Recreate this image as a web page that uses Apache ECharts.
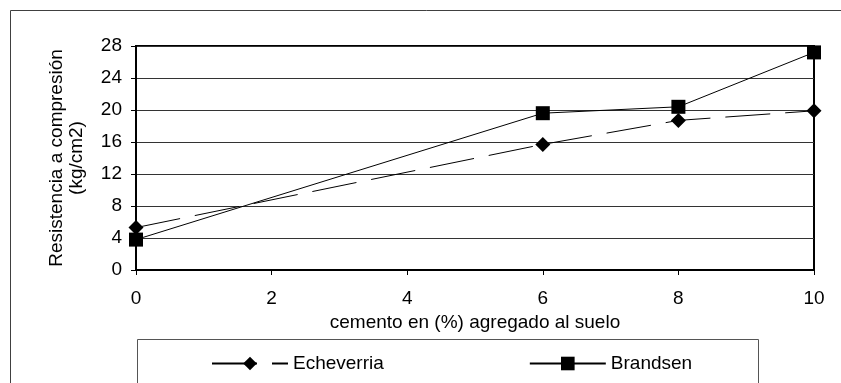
<!DOCTYPE html>
<html>
<head>
<meta charset="utf-8">
<script src="https://cdn.jsdelivr.net/npm/echarts@6/dist/echarts.min.js"></script>
<style>
  html, body { margin: 0; padding: 0; background: #fff; }
  #chart { width: 841px; height: 383px; }
</style>
</head>
<body>
<div id="chart"></div>
<script>
// Cement added to the soil (%) and compressive strength (kg/cm2) per soil
const cementoPct = [0, 6, 8, 10];
const echeverria = [5.3, 15.7, 18.7, 19.9];
const brandsen = [3.8, 19.6, 20.4, 27.2];

const serieNames = ['Echeverria', 'Brandsen'];
const xTitle = 'cemento en (%) agregado al suelo';
const yTitle = 'Resistencia a compresión\n(kg/cm2)';

const FONT = '"Liberation Sans", Arial, sans-serif';

const pairs = (xs, ys) => xs.map((x, i) => [x, ys[i]]);

const chart = echarts.init(document.getElementById('chart'), null, { renderer: 'canvas' });

chart.setOption({
  animation: false,
  backgroundColor: '#fff',
  textStyle: { fontFamily: FONT, color: '#000' },
  graphic: [
    {
      type: 'rect',
      silent: true,
      shape: { x: 10.5, y: 10.5, width: 1000, height: 1000 },
      style: { fill: 'none', stroke: '#404040', lineWidth: 1 },
      z: -10
    },
    {
      type: 'rect',
      silent: true,
      shape: { x: 137.5, y: 339.5, width: 621, height: 200 },
      style: { fill: 'none', stroke: '#555', lineWidth: 1 },
      z: -10
    }
  ],
  grid: {
    left: 136, top: 46, width: 678, height: 224,
    show: true, borderColor: '#000', borderWidth: 2, backgroundColor: 'transparent'
  },
  legend: {
    left: 211, top: 354, padding: 0,
    itemWidth: 76, itemHeight: 17, itemGap: 145,
    textStyle: { fontFamily: FONT, fontSize: 19, color: '#000' },
    data: serieNames
  },
  xAxis: {
    type: 'value', min: 0, max: 10, interval: 2,
    name: xTitle, nameLocation: 'middle', nameGap: 41,
    nameTextStyle: { fontFamily: FONT, fontSize: 19, color: '#000', lineHeight: 19 },
    axisLine: { show: true, lineStyle: { color: '#000', width: 2 } },
    axisTick: { show: true, length: 5, lineStyle: { color: '#000', width: 1 } },
    axisLabel: { fontFamily: FONT, fontSize: 19, color: '#000', margin: 19, lineHeight: 19 },
    splitLine: { show: false }
  },
  yAxis: {
    type: 'value', min: 0, max: 28, interval: 4,
    name: yTitle, nameLocation: 'middle', nameGap: 49, nameRotate: 90,
    nameTextStyle: { fontFamily: FONT, fontSize: 19, color: '#000', lineHeight: 20 },
    axisLine: { show: true, lineStyle: { color: '#000', width: 2 } },
    axisTick: { show: true, length: 5, lineStyle: { color: '#000', width: 1 } },
    axisLabel: { fontFamily: FONT, fontSize: 19, color: '#000', margin: 14 },
    splitLine: { show: true, lineStyle: { color: '#333', width: 1 } }
  },
  series: [
    {
      name: serieNames[0],
      type: 'line',
      data: pairs(cementoPct, echeverria),
      symbol: 'diamond',
      symbolSize: 15,
      itemStyle: { color: '#000' },
      lineStyle: { color: '#000', width: 1, type: [45, 15] },
      z: 3
    },
    {
      name: serieNames[1],
      type: 'line',
      data: pairs(cementoPct, brandsen),
      symbol: 'rect',
      symbolSize: 14,
      itemStyle: { color: '#000' },
      lineStyle: { color: '#000', width: 1, type: 'solid' },
      z: 4
    }
  ]
});
</script>
</body>
</html>
